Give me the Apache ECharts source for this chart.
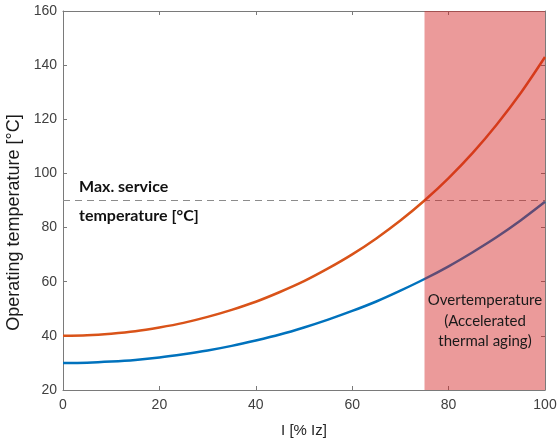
<!DOCTYPE html>
<html>
<head>
<meta charset="utf-8">
<script src="https://cdn.jsdelivr.net/npm/echarts@6/dist/echarts.min.js"></script>
<style>
  html, body { margin: 0; padding: 0; background: #fff; }
  #chart { width: 558px; height: 439px; }
</style>
</head>
<body>
<div id="chart"></div>
<script>
// load current in % of Iz
const current = [0, 5, 10, 15, 20, 25, 30, 35, 40, 45, 50, 55, 60, 65, 70, 75, 80, 85, 90, 95, 100]
// operating temperature, upper (orange) curve
const tempHigh = [40, 40.2, 40.8, 41.7, 43.1, 44.8, 47.0, 49.6, 52.6, 56.2, 60.2, 64.9, 70.1, 76.0, 82.6, 90.0, 98.3, 107.6, 118.1, 129.8, 143.0]
// operating temperature, lower (blue) curve
const tempLow = [30, 30.1, 30.5, 31.1, 32.0, 33.2, 34.6, 36.3, 38.3, 40.5, 43.1, 46.0, 49.2, 52.7, 56.7, 61.0, 65.7, 70.9, 76.5, 82.7, 89.5]
const maxServiceTemp = 90
const overTempRange = [75, 100]
const xTicks = [0, 20, 40, 60, 80, 100]
const yTicks = [20, 40, 60, 80, 100, 120, 140, 160]

const axisColor = "#7a7a7a"
const labelColor = "#404040"

const chart = echarts.init(document.getElementById("chart"))

const baseX = {
  type: "value",
  min: xTicks[0],
  max: xTicks[xTicks.length - 1],
  interval: 20,
  axisLine: { show: true, onZero: false, lineStyle: { color: axisColor, width: 1 } },
  axisTick: { show: true, inside: true, length: 4, lineStyle: { color: axisColor } },
  splitLine: { show: false },
}
const baseY = {
  type: "value",
  min: yTicks[0],
  max: yTicks[yTicks.length - 1],
  interval: 20,
  axisLine: { show: true, onZero: false, lineStyle: { color: axisColor, width: 1 } },
  axisTick: { show: true, inside: true, length: 4, lineStyle: { color: axisColor } },
  splitLine: { show: false },
}

chart.setOption({
  animation: false,
  grid: { left: 63, right: 13, top: 11, bottom: 49, containLabel: false, outerBoundsMode: "none" },
  xAxis: [
    {
      ...baseX,
      position: "bottom",
      name: "I [% Iz]",
      nameLocation: "middle",
      nameGap: 33,
      nameTextStyle: { fontFamily: "Liberation Sans", fontSize: 15, color: "#262626" },
      axisLabel: { margin: 8, fontFamily: "Liberation Sans", fontSize: 14, color: labelColor },
    },
    { ...baseX, position: "top", axisLabel: { show: false } },
  ],
  yAxis: [
    {
      ...baseY,
      position: "left",
      name: "Operating temperature [°C]",
      nameLocation: "middle",
      nameGap: 31,
      nameTextStyle: { fontFamily: "Liberation Sans", fontSize: 18, color: "#1a1a1a", padding: [0, 44, 0, 0] },
      axisLabel: { margin: 6, fontFamily: "Liberation Sans", fontSize: 14, color: labelColor },
    },
    { ...baseY, position: "right", axisLabel: { show: false } },
  ],
  series: [
    {
      type: "line",
      z: 2,
      data: current.map((x, i) => [x, tempHigh[i]]),
      smooth: 0.3,
      showSymbol: false,
      lineStyle: { color: "#D95319", width: 2.5 },
      markLine: {
        silent: true,
        symbol: "none",
        z: 1,
        label: { show: false },
        lineStyle: { color: "#8c8c8c", type: [7, 5], width: 1.2 },
        data: [{ yAxis: maxServiceTemp }],
      },
    },
    {
      type: "line",
      z: 2,
      data: current.map((x, i) => [x, tempLow[i]]),
      smooth: 0.3,
      showSymbol: false,
      lineStyle: { color: "#0072BD", width: 2.5 },
    },
    {
      type: "line",
      z: 5,
      data: [],
      markArea: {
        silent: true,
        z: 5,
        itemStyle: { color: "rgba(210,30,30,0.45)" },
        data: [[{ xAxis: overTempRange[0] }, { xAxis: overTempRange[1] }]],
      },
    },
  ],
  graphic: [
    {
      type: "text",
      z: 10,
      style: {
        x: 79,
        y: 187,
        text: "Max. service",
        font: "bold 16px Lato",
        fill: "#111",
        textVerticalAlign: "middle",
      },
    },
    {
      type: "text",
      z: 10,
      style: {
        x: 79,
        y: 216,
        text: "temperature [°C]",
        font: "bold 16px Lato",
        fill: "#111",
        textVerticalAlign: "middle",
      },
    },
    {
      type: "text",
      z: 10,
      style: {
        x: 485,
        y: 321,
        text: "Overtemperature\n(Accelerated\nthermal aging)",
        font: "15px Lato",
        lineHeight: 20.5,
        fill: "#1a1a1a",
        textAlign: "center",
        textVerticalAlign: "middle",
      },
    },
  ],
})

window.addEventListener("resize", () => chart.resize())
</script>
</body>
</html>
